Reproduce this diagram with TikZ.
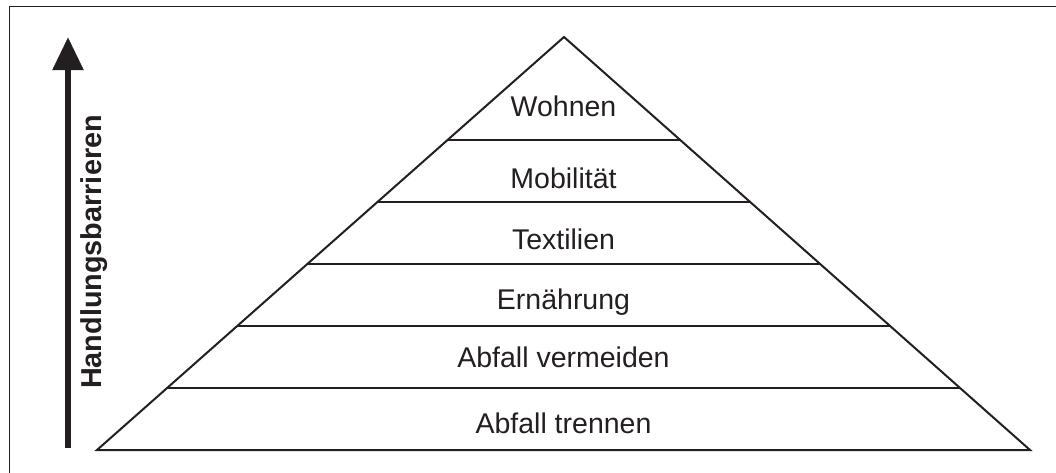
\documentclass[tikz,border=0pt]{standalone}
\usepackage{fontspec}
\setmainfont{Liberation Sans}
\usetikzlibrary{calc}
\definecolor{ink}{HTML}{231F20}
\tikzset{
  frame/.style={draw=ink, line width=1.6pt},
  pyr/.style={draw=ink, line width=2pt, line join=miter},
  level/.style={draw=ink, line width=2pt},
  lbl/.style={anchor=base, inner sep=0pt, text=ink, font=\fontsize{28.5}{32}\selectfont},
  axislbl/.style={anchor=base, inner sep=0pt, text=ink, rotate=90, font=\fontsize{28.8}{32}\selectfont\bfseries},
  uparrow/.style={draw=ink, fill=ink}
}
\begin{document}
\begin{tikzpicture}[x=1pt,y=-1pt]
  \useasboundingbox (0,0) rectangle (1056,473);

  % outer frame (top and left edges)
  \coordinate (fbl) at (9.3,473);
  \coordinate (ftl) at (9.3,6.5);
  \coordinate (ftr) at (1056,6.5);
  \draw[frame] (fbl) -- (ftl) -- (ftr);

  % pyramid outline
  \coordinate (apex) at (564,37);
  \coordinate (bl) at (97,450);
  \coordinate (br) at (1030,450);
  \draw[pyr] (bl) -- (apex) -- (br) -- cycle;

  % level dividers, equally spaced at 0.15 of the height
  \foreach \k in {1,...,5} {
    \coordinate (l\k) at ($(bl)!{0.15*\k}!(apex)$);
    \coordinate (r\k) at ($(br)!{0.15*\k}!(apex)$);
    \draw[level] (l\k) -- (r\k);
  }

  % level labels
  \node[lbl] (wohnen)    at (563.5,117) {Wohnen};
  \node[lbl] (mobil)     at (563.5,188) {Mobilität};
  \node[lbl] (textil)    at (563.5,249) {Textilien};
  \node[lbl] (ernaehr)   at (563.5,309) {Ernährung};
  \node[lbl] (vermeiden) at (563.5,367) {Abfall vermeiden};
  \node[lbl] (trennen)   at (563.5,433) {Abfall trennen};

  % vertical arrow with its caption
  \coordinate (abot) at (68,448);
  \coordinate (atop) at (68,70);
  \coordinate (atip) at (68,38);
  \draw[draw=ink, line width=6pt] (abot) -- (atop);
  \fill[uparrow] (atip) -- ($(atop)+(15.5,0)$) -- ($(atop)+(-15.5,0)$) -- cycle;
  \node[axislbl] (barrier) at (101.7,252) {Handlungsbarrieren};
\end{tikzpicture}
\end{document}
